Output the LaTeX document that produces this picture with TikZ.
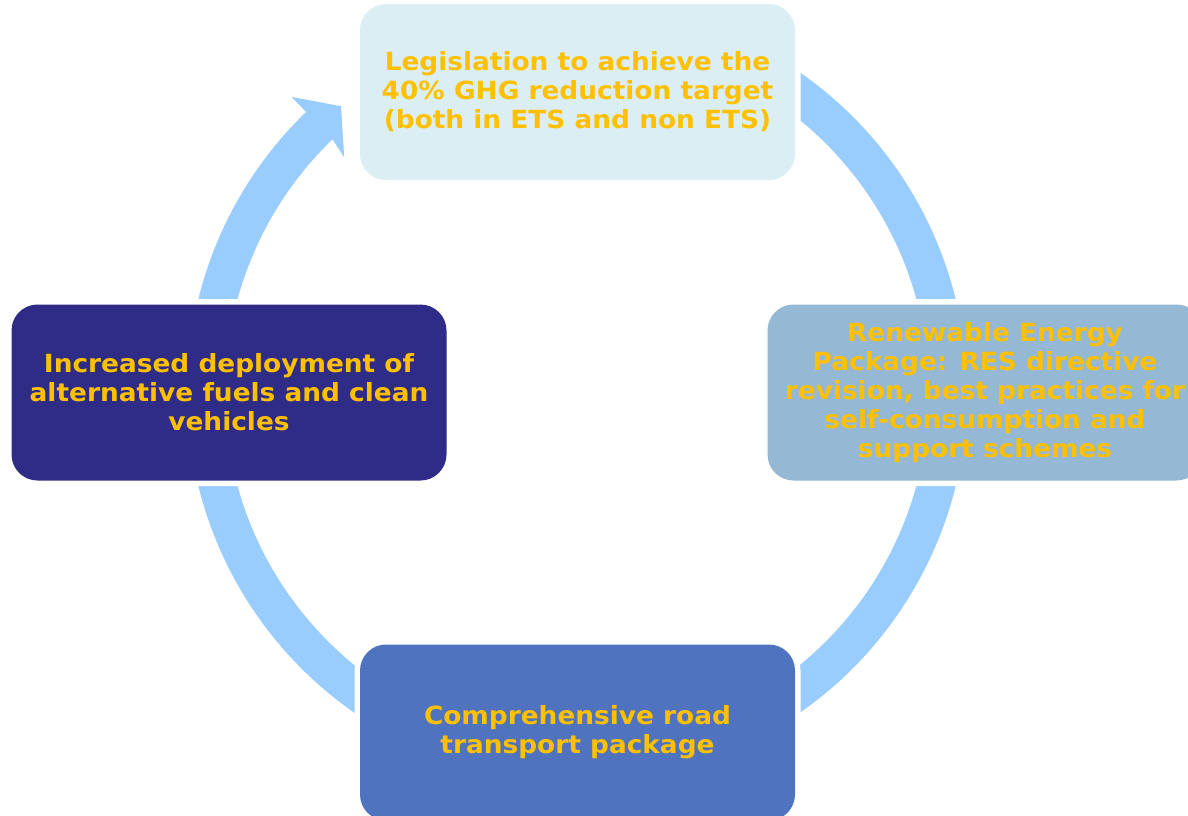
\documentclass[tikz,border=0pt]{standalone}
\usepackage{fontspec}
\setmainfont{DejaVu Sans}[FakeStretch=1.055]
\definecolor{ringc}{HTML}{99CCFF}
\definecolor{topc}{HTML}{DAEEF3}
\definecolor{rightc}{HTML}{95B8D5}
\definecolor{botc}{HTML}{5073C0}
\definecolor{leftc}{HTML}{2E2C87}
\definecolor{txtc}{HTML}{FFC000}
\tikzset{
  box/.style={rectangle, rounded corners=13pt, minimum width=217.5pt, minimum height=88pt,
    inner sep=0pt, align=center, text=txtc,
    font=\fontsize{12.5pt}{14.5pt}\selectfont\bfseries,
    preaction={draw=white, line width=5.5pt}},
  ringfill/.style={fill=ringc}
}
\begin{document}
\begin{tikzpicture}[x=0.5pt, y=-0.5pt]
\useasboundingbox (0,0) rectangle (1188,815);
\clip (0,0) rectangle (1188,815);
\fill[white] (0,0) rectangle (1188,815);
\coordinate (c) at (577,392.5);
\begin{scope}[shift={(c)}, x=0.5pt, y=0.5pt]
  \fill[ringfill] (60:390) arc[start angle=60, end angle=-226, radius=390]
    -- (134:411) -- (129.5:371) -- (134.7:331) -- (134:352)
    arc[start angle=-226, end angle=60, radius=352] -- cycle;
\end{scope}
\node[box, fill=topc] (leg) at (577.5,92) {Legislation to achieve the\\40\% GHG reduction target\\(both in ETS and non ETS)};
\node[box, fill=rightc] (res) at (985,392.5) {Renewable Energy\\Package: RES directive\\revision, best practices for\\self-consumption and\\support schemes};
\node[box, fill=botc] (road) at (577.5,732.5) {Comprehensive road\\transport package};
\node[box, fill=leftc] (fuel) at (229,392.5) {Increased deployment of\\alternative fuels and clean\\vehicles};
\end{tikzpicture}
\end{document}
